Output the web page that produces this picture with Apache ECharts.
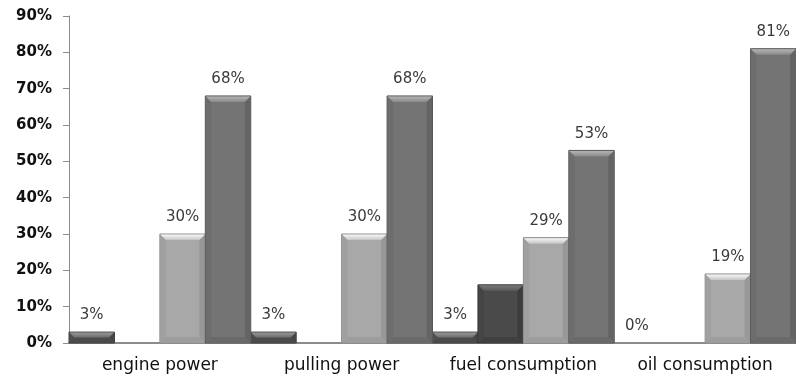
<!DOCTYPE html>
<html>
<head>
<meta charset="utf-8">
<script src="https://cdn.jsdelivr.net/npm/echarts@6/dist/echarts.min.js"></script>
<style>
  html, body { margin: 0; padding: 0; background: #ffffff; }
  #chart { width: 796px; height: 379px; }
</style>
</head>
<body>
<div id="chart"></div>
<script>
// Categories and series values (percent)
const categories = ['engine power', 'pulling power', 'fuel consumption', 'oil consumption'];
const seriesA = [3, 3, 3, 0];
const seriesB = [null, null, 16, null];
const seriesC = [30, 30, 29, 19];
const seriesD = [68, 68, 53, 81];
const yTicks = [0, 10, 20, 30, 40, 50, 60, 70, 80, 90];

const allSeries = [seriesA, seriesB, seriesC, seriesD];
const showLabels = [true, false, true, true];

// Bevelled bar shading per series
const shades = [
  { body: '#545454', top: '#9a9a9a', topLow: '#6a6a6a', left: '#4e4e4e', right: '#464646', bottom: '#4a4a4a', edge: '#3c3c3c' },
  { body: '#4a4a4a', top: '#777777', topLow: '#5a5a5a', left: '#454545', right: '#3c3c3c', bottom: '#404040', edge: '#323232' },
  { body: '#a8a8a8', top: '#f8f8f8', topLow: '#c4c4c4', left: '#a0a0a0', right: '#989898', bottom: '#9d9d9d', edge: '#8c8c8c' },
  { body: '#747474', top: '#b4b4b4', topLow: '#8a8a8a', left: '#6d6d6d', right: '#646464', bottom: '#6a6a6a', edge: '#585858' }
];

function makeRender(sIdx) {
  return function (params, api) {
    const cat = api.value(0);
    const val = api.value(1);
    const base = api.coord([cat, 0]);
    const topPt = api.coord([cat, val]);
    const catW = api.size([1, 0])[0];
    const bw = catW / allSeries.length;
    const x0 = base[0] - catW / 2 + sIdx * bw;
    const x1 = x0 + bw;
    const yb = base[1];
    const yt = topPt[1];
    const h = yb - yt;
    const sh = shades[sIdx];
    const children = [];
    if (h > 0.5) {
      const b = Math.min(6, h / 2);
      // bar body
      children.push({
        type: 'rect',
        shape: { x: x0, y: yt, width: bw, height: h },
        style: { fill: sh.body, stroke: sh.edge, lineWidth: 1 }
      });
      // left face
      children.push({
        type: 'polygon',
        shape: { points: [[x0 + 0.5, yt + 0.5], [x0 + b, yt + b], [x0 + b, yb - b], [x0 + 0.5, yb - 0.5]] },
        style: { fill: sh.left }
      });
      // right face
      children.push({
        type: 'polygon',
        shape: { points: [[x1 - 0.5, yt + 0.5], [x1 - b, yt + b], [x1 - b, yb - b], [x1 - 0.5, yb - 0.5]] },
        style: { fill: sh.right }
      });
      // bottom face
      children.push({
        type: 'polygon',
        shape: { points: [[x0 + 0.5, yb - 0.5], [x1 - 0.5, yb - 0.5], [x1 - b, yb - b], [x0 + b, yb - b]] },
        style: { fill: sh.bottom }
      });
      // top face (highlight)
      children.push({
        type: 'polygon',
        shape: { points: [[x0 + 0.5, yt + 0.5], [x1 - 0.5, yt + 0.5], [x1 - b, yt + b], [x0 + b, yt + b]] },
        style: {
          fill: new echarts.graphic.LinearGradient(0, 0, 0, 1, [
            { offset: 0, color: sh.top },
            { offset: 1, color: sh.topLow }
          ])
        }
      });
    }
    if (showLabels[sIdx]) {
      children.push({
        type: 'text',
        style: {
          text: val + '%',
          x: x0 + bw / 2,
          y: yt - 9,
          align: 'center',
          verticalAlign: 'bottom',
          fill: '#3a3a3a',
          font: '15px "DejaVu Sans"'
        }
      });
    }
    return { type: 'group', children: children };
  };
}

const series = allSeries.map(function (vals, sIdx) {
  const data = [];
  vals.forEach(function (v, i) { if (v !== null) data.push([i, v]); });
  return {
    type: 'custom',
    renderItem: makeRender(sIdx),
    encode: { x: 0, y: 1 },
    clip: false,
    data: data
  };
});

const chart = echarts.init(document.getElementById('chart'), null, { renderer: 'canvas' });
chart.setOption({
  animation: false,
  backgroundColor: '#ffffff',
  grid: { left: 69, right: -6, top: 16, bottom: 36, containLabel: false },
  xAxis: {
    type: 'category',
    data: categories,
    boundaryGap: true,
    axisLine: { show: true, lineStyle: { color: '#8c8c8c', width: 2 } },
    axisTick: { show: false },
    axisLabel: {
      interval: 0,
      margin: 14,
      color: '#111111',
      fontFamily: 'DejaVu Sans',
      fontSize: 17
    },
    splitLine: { show: false }
  },
  yAxis: {
    type: 'value',
    min: yTicks[0],
    max: yTicks[yTicks.length - 1],
    interval: yTicks[1] - yTicks[0],
    axisLine: { show: true, lineStyle: { color: '#8c8c8c', width: 1 } },
    axisTick: { show: true, inside: false, length: 6, lineStyle: { color: '#8c8c8c' } },
    axisLabel: {
      margin: 17,
      color: '#111111',
      fontFamily: 'DejaVu Sans',
      fontWeight: 'bold',
      fontSize: 15,
      formatter: '{value}%'
    },
    splitLine: { show: false }
  },
  series: series
});
</script>
</body>
</html>
